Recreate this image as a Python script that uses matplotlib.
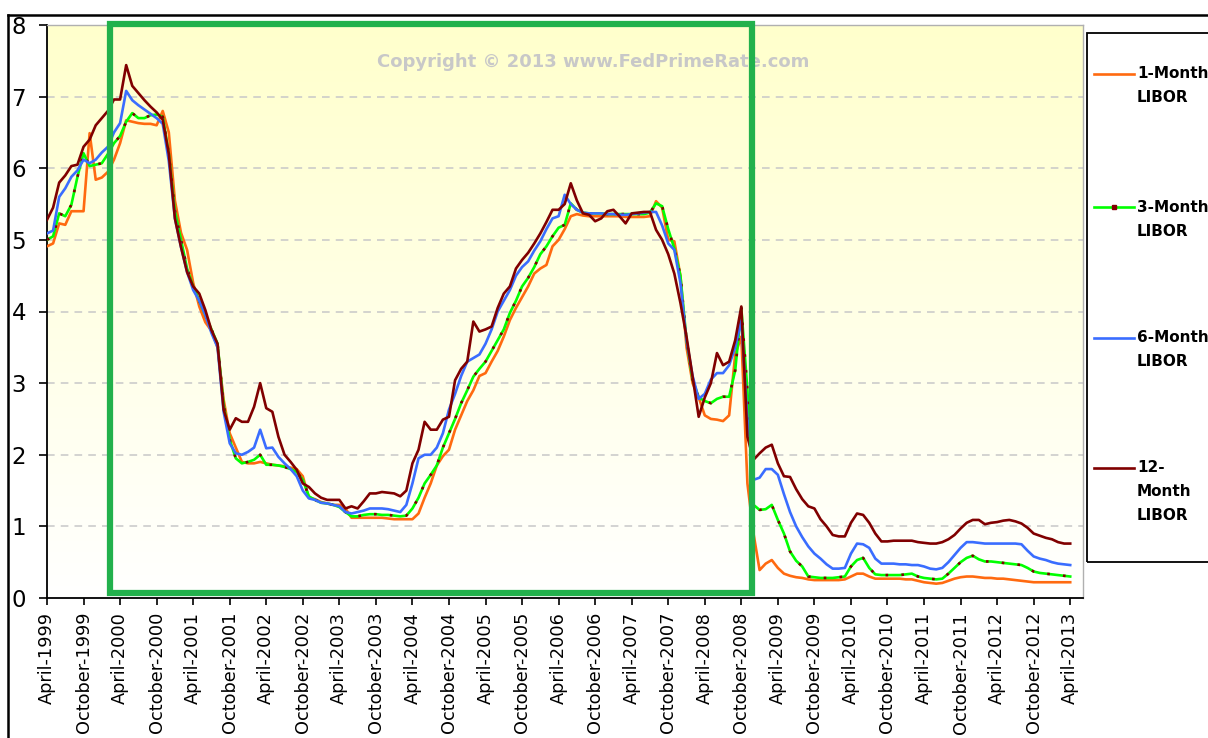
import numpy as np
import matplotlib.pyplot as plt
from matplotlib.colors import LinearSegmentedColormap
from matplotlib.patches import Rectangle
from matplotlib.lines import Line2D

W, H = 1208, 738

# monthly LIBOR, April 1999 .. April 2013 (one row = April..March)
libor_1m = [
    4.91, 4.95, 5.23, 5.21, 5.40, 5.40, 5.40, 6.49, 5.84, 5.87, 5.95, 6.12,
    6.35, 6.67, 6.65, 6.63, 6.62, 6.62, 6.60, 6.80, 6.50, 5.55, 5.10, 4.86,
    4.40, 4.07, 3.85, 3.73, 3.50, 2.77, 2.30, 2.10, 1.90, 1.88, 1.88, 1.90,
    1.88, 1.86, 1.85, 1.84, 1.82, 1.80, 1.70, 1.40, 1.38, 1.34, 1.32, 1.30,
    1.30, 1.25, 1.12, 1.12, 1.12, 1.12, 1.12, 1.12, 1.11, 1.10, 1.10, 1.10,
    1.10, 1.18, 1.40, 1.60, 1.85, 1.98, 2.07, 2.35, 2.55, 2.75, 2.90, 3.10,
    3.14, 3.30, 3.45, 3.65, 3.88, 4.05, 4.20, 4.35, 4.53, 4.60, 4.65, 4.91,
    5.00, 5.15, 5.33, 5.36, 5.34, 5.33, 5.33, 5.33, 5.33, 5.33, 5.33, 5.32,
    5.32, 5.32, 5.32, 5.33, 5.54, 5.45, 5.00, 4.98, 4.50, 3.50, 3.00, 2.80,
    2.55, 2.50, 2.49, 2.47, 2.55, 3.40, 3.65, 1.60, 0.90, 0.39, 0.48, 0.53,
    0.42, 0.34, 0.31, 0.29, 0.28, 0.26, 0.25, 0.25, 0.25, 0.25, 0.25, 0.26,
    0.30, 0.34, 0.34, 0.30, 0.27, 0.27, 0.27, 0.27, 0.27, 0.26, 0.26, 0.24,
    0.22, 0.21, 0.20, 0.21, 0.24, 0.27, 0.29, 0.30, 0.30, 0.29, 0.28, 0.28,
    0.27, 0.27, 0.26, 0.25, 0.24, 0.23, 0.22, 0.22, 0.22, 0.22, 0.22, 0.22,
    0.22,
]
libor_3m = [
    5.00, 5.05, 5.37, 5.33, 5.49, 5.88, 6.21, 6.03, 6.05, 6.07, 6.20, 6.35,
    6.45, 6.65, 6.77, 6.70, 6.70, 6.74, 6.75, 6.72, 6.20, 5.40, 5.00, 4.60,
    4.35, 4.15, 3.95, 3.75, 3.55, 2.70, 2.21, 1.95, 1.88, 1.90, 1.93, 2.00,
    1.86, 1.86, 1.85, 1.83, 1.80, 1.76, 1.65, 1.42, 1.37, 1.33, 1.32, 1.30,
    1.27, 1.20, 1.14, 1.14, 1.16, 1.17, 1.17, 1.16, 1.16, 1.15, 1.14, 1.15,
    1.25, 1.40, 1.60, 1.72, 1.85, 2.10, 2.30, 2.50, 2.72, 2.90, 3.09, 3.20,
    3.30, 3.45, 3.60, 3.75, 3.98, 4.15, 4.35, 4.47, 4.62, 4.80, 4.91, 5.05,
    5.17, 5.21, 5.51, 5.42, 5.38, 5.37, 5.37, 5.37, 5.36, 5.36, 5.36, 5.36,
    5.36, 5.36, 5.36, 5.38, 5.51, 5.47, 5.15, 4.88, 4.50, 3.60, 3.05, 2.80,
    2.75, 2.72, 2.78, 2.81, 2.81, 3.18, 4.05, 2.90, 1.30, 1.23, 1.24, 1.30,
    1.09, 0.90, 0.65, 0.52, 0.44, 0.30, 0.29, 0.28, 0.28, 0.28, 0.29, 0.30,
    0.44, 0.53, 0.56, 0.42, 0.33, 0.32, 0.32, 0.32, 0.32, 0.33, 0.34, 0.30,
    0.28, 0.27, 0.26, 0.27, 0.34, 0.42, 0.50, 0.56, 0.59, 0.54, 0.51, 0.51,
    0.50, 0.49, 0.48, 0.47, 0.46, 0.42, 0.37, 0.35, 0.34, 0.33, 0.32, 0.31,
    0.30,
]
libor_6m = [
    5.09, 5.13, 5.60, 5.72, 5.88, 5.97, 6.12, 6.07, 6.12, 6.22, 6.30, 6.50,
    6.63, 7.08, 6.95, 6.88, 6.82, 6.76, 6.70, 6.62, 6.10, 5.30, 4.90, 4.55,
    4.30, 4.15, 3.95, 3.70, 3.50, 2.60, 2.16, 2.02, 2.00, 2.04, 2.10, 2.35,
    2.09, 2.10, 1.97, 1.88, 1.80, 1.70, 1.50, 1.39, 1.37, 1.33, 1.32, 1.30,
    1.28, 1.20, 1.18, 1.20, 1.22, 1.25, 1.25, 1.25, 1.24, 1.22, 1.20, 1.30,
    1.60, 1.95, 2.00, 2.00, 2.10, 2.30, 2.63, 2.85, 3.10, 3.30, 3.35, 3.40,
    3.55, 3.75, 4.00, 4.15, 4.30, 4.50, 4.62, 4.70, 4.85, 4.98, 5.15, 5.30,
    5.33, 5.63, 5.50, 5.42, 5.38, 5.37, 5.37, 5.37, 5.36, 5.36, 5.35, 5.35,
    5.36, 5.37, 5.38, 5.39, 5.39, 5.20, 4.95, 4.86, 4.40, 3.60, 3.10, 2.78,
    2.85, 3.05, 3.14, 3.14, 3.25, 3.50, 3.88, 2.50, 1.65, 1.68, 1.80, 1.80,
    1.72, 1.45, 1.20, 1.00, 0.85, 0.72, 0.62, 0.55, 0.47, 0.41, 0.41, 0.42,
    0.62, 0.76, 0.75, 0.70, 0.55, 0.48, 0.48, 0.48, 0.47, 0.47, 0.46, 0.46,
    0.44, 0.41, 0.40, 0.42, 0.50, 0.60, 0.70, 0.78, 0.78, 0.77, 0.76, 0.76,
    0.76, 0.76, 0.76, 0.76, 0.75, 0.66, 0.58, 0.55, 0.53, 0.50, 0.48, 0.47,
    0.46,
]
libor_12m = [
    5.28, 5.45, 5.80, 5.90, 6.03, 6.05, 6.30, 6.40, 6.60, 6.70, 6.80, 6.96,
    6.96, 7.44, 7.15, 7.05, 6.95, 6.86, 6.78, 6.68, 6.20, 5.30, 4.90, 4.55,
    4.35, 4.25, 4.02, 3.74, 3.55, 2.63, 2.35, 2.51, 2.46, 2.46, 2.67, 3.00,
    2.65, 2.60, 2.25, 2.00, 1.90, 1.79, 1.60, 1.55, 1.46, 1.40, 1.37, 1.37,
    1.37, 1.25, 1.28, 1.25, 1.35, 1.46, 1.46, 1.48, 1.47, 1.46, 1.42, 1.50,
    1.88, 2.07, 2.46, 2.35, 2.35, 2.49, 2.53, 3.04, 3.20, 3.30, 3.86, 3.72,
    3.75, 3.79, 4.05, 4.25, 4.35, 4.60, 4.72, 4.82, 4.95, 5.09, 5.25, 5.42,
    5.42, 5.50, 5.79, 5.55, 5.37, 5.35, 5.26, 5.30, 5.40, 5.42, 5.33, 5.23,
    5.37, 5.38, 5.39, 5.39, 5.14, 5.00, 4.80, 4.53, 4.12, 3.65, 3.09, 2.53,
    2.80, 3.00, 3.42, 3.25, 3.30, 3.60, 4.07, 2.25, 1.93, 2.02, 2.10, 2.14,
    1.88, 1.70, 1.69, 1.52, 1.38, 1.28, 1.25, 1.10, 1.00, 0.88, 0.86, 0.86,
    1.05, 1.18, 1.16, 1.05, 0.90, 0.79, 0.79, 0.80, 0.80, 0.80, 0.80, 0.78,
    0.77, 0.76, 0.76, 0.78, 0.82, 0.88, 0.97, 1.05, 1.09, 1.09, 1.03, 1.05,
    1.06, 1.08, 1.09, 1.07, 1.04, 0.98, 0.90, 0.87, 0.84, 0.82, 0.78, 0.76,
    0.76,
]

series = [libor_1m, libor_3m, libor_6m, libor_12m]
series_names = ['1-Month\nLIBOR', '3-Month\nLIBOR', '6-Month\nLIBOR', '12-\nMonth\nLIBOR']
series_colors = ['#ff6a10', '#00ff00', '#3a6dff', '#800000']
dot_color = '#800000'

months = np.arange(len(libor_1m))
tick_months = list(range(0, 169, 6))
tick_labels = [('April-%d' if i % 2 == 0 else 'October-%d') % (1999 + i // 2)
               for i in range(len(tick_months))]
y_ticks = list(range(0, 9))

# highlighted period (month index / rate)
box_start, box_end = 10.4, 115.8


def fx(px):
    return px / W


def fy(py):
    return 1 - py / H


fig = plt.figure(figsize=(W / 100, H / 100), dpi=100)
ax = fig.add_axes([fx(47), fy(598), fx(1083) - fx(47), fy(25) - fy(598)])

# yellow -> white background
cmap = LinearSegmentedColormap.from_list('bg', ['#ffffff', '#ffffcc'])
grad = np.linspace(0, 1, 256).reshape(-1, 1)
ax.imshow(grad, cmap=cmap, aspect='auto', extent=[0, 1, 0, 1],
          transform=ax.transAxes, origin='lower', zorder=0)

for y in y_ticks[1:-1]:
    ax.axhline(y, color='#c8c8c8', lw=1.1, ls=(0, (5, 4)), zorder=1)

for vals, col in zip(series, series_colors):
    ax.plot(months, vals, color=col, lw=1.9, zorder=3)
    if col == '#00ff00':
        ax.plot(months, vals, color=dot_color, lw=1.9, ls=(0, (1, 5)), zorder=3)

ax.set_xlim(0, 170.1)
ax.set_ylim(0, 8)
ax.set_xticks(tick_months)
ax.set_xticklabels(tick_labels, rotation=90, fontsize=12.8, family='DejaVu Sans')
ax.set_yticks(y_ticks)
ax.set_yticklabels([str(v) for v in y_ticks], fontsize=16.5, family='DejaVu Sans')
ax.tick_params(axis='x', length=5, width=1.2, pad=5)
ax.tick_params(axis='y', length=6, width=1.2, pad=9)
for s in ['left', 'bottom']:
    ax.spines[s].set_color('black')
    ax.spines[s].set_linewidth(1.3)
for s in ['top', 'right']:
    ax.spines[s].set_color('#b0b0b0')
    ax.spines[s].set_linewidth(1.0)

ax.text(0.527, 0.935, 'Copyright \u00a9 2013 www.FedPrimeRate.com', transform=ax.transAxes,
        ha='center', va='center', fontsize=13, fontweight='bold', color='#c8c8c8',
        family='DejaVu Sans', zorder=2)

# green highlight box
ax.add_patch(Rectangle((box_start, 0.07), box_end - box_start, 7.95, fill=False,
                       edgecolor='#22b14c', lw=4.5, clip_on=False, zorder=5))

# legend
fig.add_artist(Rectangle((fx(1087), fy(562)), fx(1300) - fx(1087), fy(33) - fy(562),
                         transform=fig.transFigure, fill=False, edgecolor='black', lw=1.3))
legend_y = [74, 207, 338, 468]
for name, col, ly in zip(series_names, series_colors, legend_y):
    fig.add_artist(Line2D([fx(1094), fx(1134)], [fy(ly), fy(ly)], color=col, lw=1.9))
    if col == '#00ff00':
        fig.add_artist(Line2D([fx(1114)], [fy(ly)], marker='s', ms=2.2, color=dot_color, lw=0))
    for k, line in enumerate(name.split('\n')):
        fig.text(fx(1137), fy(ly + 24 * k), line, ha='left', va='center', fontsize=11,
                 fontweight='bold', family='DejaVu Sans')

# outer frame of the screenshot
fig.add_artist(Line2D([fx(8), fx(8)], [0, fy(15)], color='black', lw=1.8))
fig.add_artist(Line2D([fx(8), 1], [fy(15), fy(15)], color='black', lw=1.8))

fig.savefig('out.png', dpi=100)
